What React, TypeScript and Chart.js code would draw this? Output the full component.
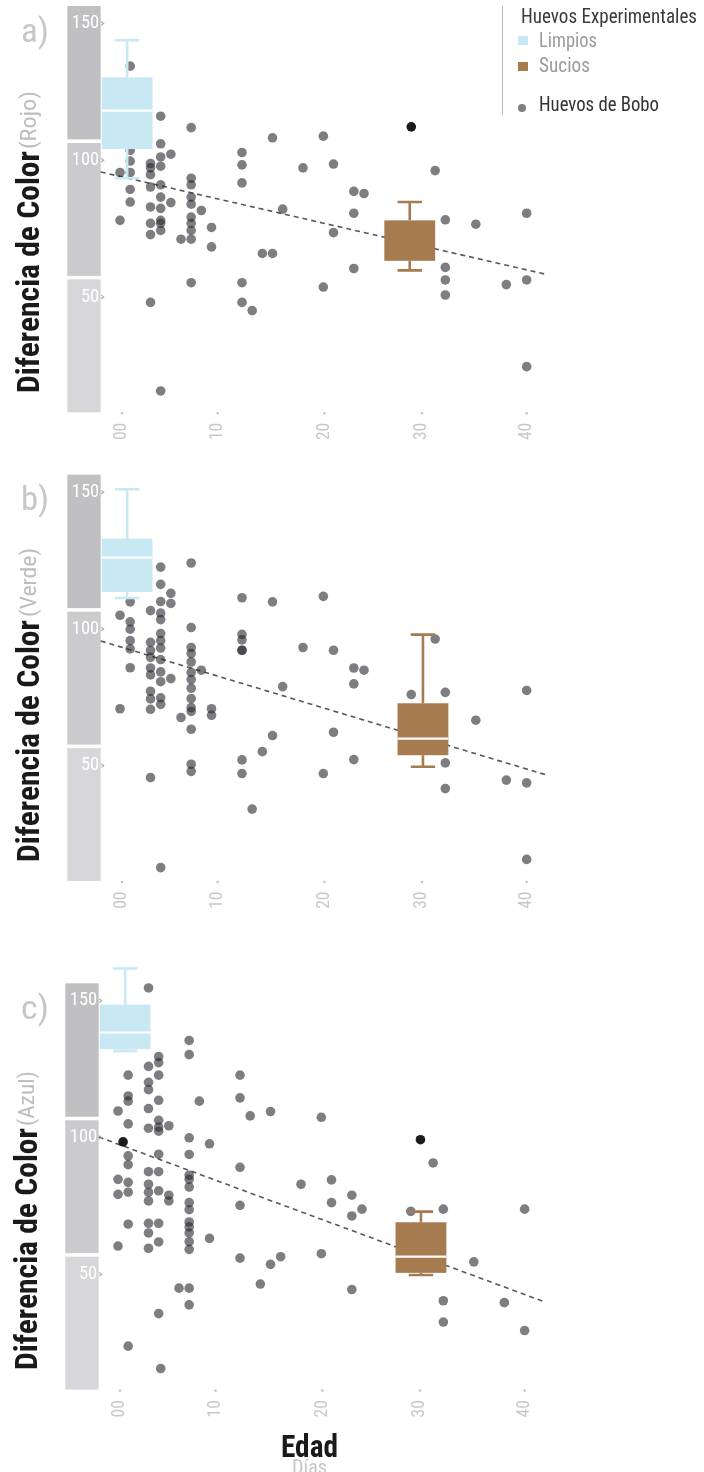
import React, { useEffect, useRef } from 'react';
import { Chart, registerables } from 'chart.js';

Chart.register(...registerables);

// ---------------- data ----------------
const xTickValues = [0.2, 9.6, 20.1, 29.7, 40];
const xTickLabels = ['00', '10', '20', '30', '40'];
const yTickValues = [50, 100, 150];
const yTickLabels = ['50', '100', '150'];
const xRange = [-1.9, 42.1];
const yRange = [7.8, 156.4];
const axisBandRanges = [[156.4, 107.6], [106.3, 57.7], [56.4, 7.8]];

const panelLetters = ['a)', 'b)', 'c)'];
const channelNames = ['(Rojo)', '(Verde)', '(Azul)'];
const yTitle = 'Diferencia de Color';
const xTitle = 'Edad';
const xSubtitle = 'Días';
const legendTitle = 'Huevos Experimentales';
const legendLimpios = 'Limpios';
const legendSucios = 'Sucios';
const legendBobo = 'Huevos de Bobo';

// Huevos de Bobo [día, diferencia]
const rojoBobo: number[][] = [
  [0, 95.5], [0, 78.0],
  [1, 134.4], [1, 103.6], [1, 99.7], [1, 95.5], [1, 89.3], [1, 84.7],
  [3, 98.8], [3, 97.2], [3, 94.7], [3, 90.2], [3, 82.9], [3, 76.9], [3, 72.8], [3, 48.0],
  [4, 116.1], [4, 106.0], [4, 101.2], [4, 97.8], [4, 91.0], [4, 86.5], [4, 82.4], [4, 78.0], [4, 76.9], [4, 74.3], [4, 15.6],
  [5, 102.2], [5, 84.5],
  [6, 71.1],
  [7, 111.9], [7, 93.4], [7, 91.0], [7, 86.5], [7, 83.9], [7, 79.2], [7, 76.9], [7, 74.3], [7, 71.1], [7, 55.2],
  [8, 81.6],
  [9, 75.4], [9, 68.3],
  [12, 102.8], [12, 98.3], [12, 91.7], [12, 55.2], [12, 48.0],
  [13, 45.0], [14, 65.9], [15, 108.2], [15, 65.9], [16, 82.1], [18, 97.2],
  [20, 108.8], [20, 53.6], [21, 98.6], [21, 73.5],
  [23, 88.6], [23, 80.6], [23, 60.4], [24, 87.8],
  [31, 96.2], [32, 78.2], [32, 60.8], [32, 56.2], [32, 50.7],
  [35, 76.6], [38, 54.5], [40, 80.6], [40, 56.2], [40, 24.5],
];
const rojoDark: number[][] = [[28.65, 112.2]];
const rojoTrend = [95.7, 58.1];
const rojoLimpios = [93.4, 104.1, 118.1, 130.3, 143.9];
const rojoSucios: (number | null)[] = [59.7, 63.2, null, 78.0, 84.7];

const verdeBobo: number[][] = [
  [0, 105.0], [0, 70.8],
  [1, 109.9], [1, 102.6], [1, 99.9], [1, 95.7], [1, 92.7], [1, 85.8],
  [3, 106.7], [3, 95.1], [3, 92.1], [3, 89.6], [3, 85.7], [3, 83.2], [3, 77.2], [3, 74.4], [3, 70.6], [3, 45.6],
  [4, 122.6], [4, 116.3], [4, 110.0], [4, 105.8], [4, 103.4], [4, 98.3], [4, 95.7], [4, 93.0], [4, 88.8], [4, 84.3], [4, 80.7], [4, 74.8], [4, 72.4], [4, 12.7],
  [5, 113.0], [5, 109.3], [5, 81.8],
  [6, 67.6],
  [7, 124.1], [7, 100.5], [7, 93.2], [7, 91.0], [7, 87.9], [7, 84.1], [7, 81.5], [7, 78.3], [7, 74.5], [7, 71.2], [7, 69.8], [7, 63.3], [7, 50.5], [7, 47.9],
  [8, 84.9],
  [9, 70.8], [9, 68.4],
  [12, 111.4], [12, 98.0], [12, 96.0], [12, 92.2], [12, 92.2], [12, 52.1], [12, 47.1],
  [13, 34.1], [14, 55.1], [15, 109.9], [15, 61.0], [16, 78.9], [18, 93.2],
  [20, 111.9], [20, 47.1], [21, 92.2], [21, 62.2],
  [23, 85.7], [23, 79.9], [23, 52.2], [24, 84.9],
  [28.65, 76.0],
  [31, 96.3], [32, 76.8], [32, 51.0], [32, 41.6],
  [35, 66.6], [38, 44.7], [40, 77.5], [40, 43.7], [40, 15.7],
];
const verdeDark: number[][] = [];
const verdeTrend = [95.6, 46.4];
const verdeLimpios = [111.3, 113.5, 126.1, 133.0, 151.1];
const verdeSucios: (number | null)[] = [49.6, 53.8, 59.9, 72.8, 97.9];

const azulBobo: number[][] = [
  [0, 109.7], [0, 84.7], [0, 79.2], [0, 60.3],
  [1, 163.3], [1, 122.8], [1, 115.2], [1, 113.3], [1, 105.0], [1, 93.3], [1, 90.1], [1, 83.6], [1, 80.0], [1, 68.3], [1, 23.7],
  [3, 154.7], [3, 126.0], [3, 120.2], [3, 117.5], [3, 110.6], [3, 103.4], [3, 87.5], [3, 82.9], [3, 80.0], [3, 76.8], [3, 68.6], [3, 65.1], [3, 59.5],
  [4, 129.6], [4, 127.4], [4, 122.8], [4, 113.6], [4, 106.3], [4, 103.8], [4, 102.3], [4, 93.9], [4, 87.5], [4, 80.5], [4, 68.6], [4, 61.8], [4, 35.6], [4.2, 15.5],
  [5, 104.3], [5, 78.9], [5, 76.8],
  [6, 44.9],
  [7, 135.5], [7, 130.3], [7, 99.9], [7, 93.8], [7, 86.2], [7, 84.7], [7, 81.9], [7, 76.2], [7, 73.6], [7, 69.1], [7, 67.3], [7, 65.1], [7, 61.9], [7, 59.1], [7, 44.9], [7, 38.8],
  [8, 113.3],
  [9, 97.7], [9, 63.1],
  [12, 122.8], [12, 114.5], [12, 89.1], [12, 75.2], [12, 55.9],
  [13, 107.9], [14, 46.4], [15, 109.5], [15, 53.6], [16, 56.4], [18, 82.9],
  [20, 107.4], [20, 57.5], [21, 84.5], [21, 76.2],
  [23, 78.9], [23, 71.3], [23, 44.4], [24, 73.8],
  [28.8, 73.0],
  [31, 90.7], [32, 73.8], [32, 40.3], [32, 32.5],
  [35, 54.5], [38, 39.6], [40, 73.8], [40, 29.4],
];
const azulDark: number[][] = [[0.5, 98.4], [29.75, 99.2]];
const azulTrend = [100.2, 39.7];
const azulLimpios = [131.7, 132.3, 138.4, 148.6, 161.8];
const azulSucios: (number | null)[] = [49.7, 50.5, 56.4, 69.0, 72.9];

const limpiosDay = [0.7, 0.7, 0.7];
const suciosDay = [28.5, 29.8, 29.8];

// ---------------- fonts ----------------
function fontAvailable(name: string): boolean {
  try {
    const ctx = document.createElement('canvas').getContext('2d');
    if (!ctx) return false;
    const s = 'abcdefghijklmnopqrstuvwxyz0123456789WMQ';
    for (const base of ['monospace', 'serif']) {
      ctx.font = `48px ${base}`;
      const w0 = ctx.measureText(s).width;
      ctx.font = `48px "${name}", ${base}`;
      const w1 = ctx.measureText(s).width;
      if (Math.abs(w0 - w1) > 0.5) return true;
    }
  } catch (e) {
    /* ignore */
  }
  return false;
}
const condensedName =
  ['Liberation Sans Narrow', 'Roboto Condensed', 'Open Sans Condensed', 'Roboto'].find(fontAvailable) || 'Liberation Sans';
const FONT = `"${condensedName}", "Liberation Sans", sans-serif`;

const measureCtx = document.createElement('canvas').getContext('2d') as CanvasRenderingContext2D;
function textMetrics(text: string, size: number, weight: number) {
  measureCtx.font = `${weight} ${size}px ${FONT}`;
  const m = measureCtx.measureText(text);
  const fa = (m as any).fontBoundingBoxAscent ?? size * 0.93;
  const fd = (m as any).fontBoundingBoxDescent ?? size * 0.24;
  return { width: m.width, baseline: (size - (fa + fd)) / 2 + fa };
}

// ---------------- styles ----------------
const LIMPIOS_COLOR = '#c8e8f3';
const SUCIOS_COLOR = '#a67b4f';
const BOBO_COLOR = 'rgba(40,40,46,0.6)';
const DARK_COLOR = '#1b1b1d';
const BAND_COLORS = ['#c0c0c2', '#cbcbcd', '#d7d7d9'];
const PANEL_OFFSETS = [0, 468.7, 977.3];
const PANEL_SHIFT_X = [0, 0, -2];
const CHANNEL_LEN = [58, 69, 55];
const CANVAS_W = 704;
const CANVAS_H = 1472;

type Panel = {
  bobo: number[][];
  dark: number[][];
  trend: number[];
  limpios: (number | null)[];
  sucios: (number | null)[];
  limpiosX: number;
  suciosX: number;
};

const panels: Panel[] = [
  { bobo: rojoBobo, dark: rojoDark, trend: rojoTrend, limpios: rojoLimpios, sucios: rojoSucios, limpiosX: limpiosDay[0], suciosX: suciosDay[0] },
  { bobo: verdeBobo, dark: verdeDark, trend: verdeTrend, limpios: verdeLimpios, sucios: verdeSucios, limpiosX: limpiosDay[1], suciosX: suciosDay[1] },
  { bobo: azulBobo, dark: azulDark, trend: azulTrend, limpios: azulLimpios, sucios: azulSucios, limpiosX: limpiosDay[2], suciosX: suciosDay[2] },
];

function drawBox(ctx: CanvasRenderingContext2D, xs: any, ys: any, day: number, s: (number | null)[], color: string) {
  const [mn, q1, md, q3, mx] = s;
  const cx = xs.getPixelForValue(day);
  const x0 = xs.getPixelForValue(day - 2.5);
  const x1 = xs.getPixelForValue(day + 2.5);
  const c0 = xs.getPixelForValue(day - 1.2);
  const c1 = xs.getPixelForValue(day + 1.2);
  const yMn = ys.getPixelForValue(mn as number);
  const yQ1 = ys.getPixelForValue(q1 as number);
  const yQ3 = ys.getPixelForValue(q3 as number);
  const yMx = ys.getPixelForValue(mx as number);
  ctx.save();
  ctx.strokeStyle = color;
  ctx.lineWidth = 2.6;
  ctx.beginPath();
  ctx.moveTo(cx, yMx);
  ctx.lineTo(cx, yQ3);
  ctx.moveTo(cx, yQ1);
  ctx.lineTo(cx, yMn);
  ctx.stroke();
  ctx.beginPath();
  ctx.moveTo(c0, yMx);
  ctx.lineTo(c1, yMx);
  ctx.moveTo(c0, yMn);
  ctx.lineTo(c1, yMn);
  ctx.stroke();
  ctx.fillStyle = color;
  ctx.fillRect(x0, yQ3, x1 - x0, yQ1 - yQ3);
  if (md != null) {
    const yMd = ys.getPixelForValue(md);
    ctx.strokeStyle = '#ffffff';
    ctx.lineWidth = 2.2;
    ctx.beginPath();
    ctx.moveTo(x0, yMd);
    ctx.lineTo(x1, yMd);
    ctx.stroke();
  }
  ctx.restore();
}

function makeDecor(p: Panel) {
  return {
    id: 'eggDecor',
    beforeDraw(chart: any) {
      const ctx = chart.ctx as CanvasRenderingContext2D;
      const ys = chart.scales.y;
      ctx.save();
      axisBandRanges.forEach((b, i) => {
        const t = ys.getPixelForValue(b[0]);
        const bt = ys.getPixelForValue(b[1]);
        ctx.fillStyle = BAND_COLORS[i];
        ctx.fillRect(ys.left, t, ys.right - ys.left, bt - t);
      });
      ctx.restore();
    },
    afterDatasetsDraw(chart: any) {
      const ctx = chart.ctx as CanvasRenderingContext2D;
      drawBox(ctx, chart.scales.x, chart.scales.y, p.limpiosX, p.limpios, LIMPIOS_COLOR);
      drawBox(ctx, chart.scales.x, chart.scales.y, p.suciosX, p.sucios, SUCIOS_COLOR);
    },
    afterDraw(chart: any) {
      const ctx = chart.ctx as CanvasRenderingContext2D;
      const area = chart.chartArea;
      const xs = chart.scales.x;
      const ys = chart.scales.y;
      ctx.save();
      ctx.fillStyle = '#c6c6c8';
      xs.ticks.forEach((t: any) => {
        const x = xs.getPixelForValue(t.value);
        ctx.beginPath();
        ctx.arc(x, area.bottom + 1, 1.3, 0, Math.PI * 2);
        ctx.fill();
      });
      ctx.strokeStyle = '#a9a9ab';
      ctx.lineWidth = 1.1;
      ys.ticks.forEach((t: any) => {
        const y = ys.getPixelForValue(t.value);
        ctx.beginPath();
        ctx.moveTo(area.left + 0.5, y - 1.8);
        ctx.lineTo(area.left + 3, y);
        ctx.lineTo(area.left + 0.5, y + 1.8);
        ctx.stroke();
      });
      ctx.restore();
    },
  };
}

function buildConfig(p: Panel, offset: number): any {
  const top = 6 + offset;
  const bottom = CANVAS_H - (412.3 + offset) - 40;
  return {
    type: 'scatter',
    data: {
      datasets: [
        {
          type: 'scatter',
          data: p.dark.map((d) => ({ x: d[0], y: d[1] })),
          pointRadius: 4.8,
          pointBackgroundColor: DARK_COLOR,
          backgroundColor: DARK_COLOR,
          borderWidth: 0,
          pointBorderWidth: 0,
          clip: false,
        },
        {
          type: 'scatter',
          data: p.bobo.map((d) => ({ x: d[0], y: d[1] })),
          pointRadius: 4.8,
          pointBackgroundColor: BOBO_COLOR,
          backgroundColor: BOBO_COLOR,
          borderWidth: 0,
          pointBorderWidth: 0,
          clip: false,
        },
        {
          type: 'line',
          data: [
            { x: xRange[0], y: p.trend[0] },
            { x: xRange[1], y: p.trend[1] },
          ],
          borderColor: '#58585c',
          borderWidth: 1.6,
          borderDash: [5, 4],
          pointRadius: 0,
          fill: false,
          clip: false,
        },
      ],
    },
    options: {
      responsive: false,
      animation: false,
      events: [],
      layout: { padding: { left: 67.3, right: CANVAS_W - 548, top, bottom } },
      plugins: { legend: { display: false }, tooltip: { enabled: false }, title: { display: false } },
      scales: {
        x: {
          type: 'linear',
          min: xRange[0],
          max: xRange[1],
          grid: { display: false, drawTicks: false },
          border: { display: false },
          afterBuildTicks: (s: any) => {
            s.ticks = xTickValues.map((v) => ({ value: v }));
          },
          afterFit: (s: any) => {
            s.height = 40;
            s.paddingLeft = 0;
            s.paddingRight = 0;
          },
          ticks: {
            autoSkip: false,
            minRotation: 90,
            maxRotation: 90,
            padding: 10.5,
            color: '#c8c8ca',
            font: { family: FONT, size: 17.5 },
            callback: (_v: any, i: number) => xTickLabels[i],
          },
        },
        y: {
          type: 'linear',
          min: yRange[0],
          max: yRange[1],
          grid: { display: false, drawTicks: false },
          border: { display: false },
          afterBuildTicks: (s: any) => {
            s.ticks = yTickValues.map((v) => ({ value: v }));
          },
          afterFit: (s: any) => {
            s.width = 33.4;
            s.paddingTop = 0;
            s.paddingBottom = 0;
          },
          ticks: {
            padding: 1.5,
            color: '#ffffff',
            font: { family: FONT, size: 18.5 },
            callback: (_v: any, i: number) => yTickLabels[i],
          },
        },
      },
    },
    plugins: [makeDecor(p)],
  };
}

const abs = (s: React.CSSProperties): React.CSSProperties => ({ position: 'absolute', whiteSpace: 'nowrap', margin: 0, ...s });

type FitProps = {
  text: string;
  size: number;
  weight?: number;
  color: string;
  left: number;
  baseline: number;
  width: number;
};

// horizontal text, squeezed to the reference width
function FitText({ text, size, weight = 400, color, left, baseline, width }: FitProps) {
  const m = textMetrics(text, size, weight);
  const k = width / m.width;
  return (
    <div
      style={abs({
        left,
        top: baseline - m.baseline,
        fontSize: size,
        lineHeight: size + 'px',
        fontWeight: weight,
        color,
        transform: `scaleX(${k})`,
        transformOrigin: 'left top',
      })}
    >
      {text}
    </div>
  );
}

// vertical text reading upward; `left` = x of baseline, `baseline` = y where text starts
function VText({ text, size, weight = 400, color, left, baseline, width }: FitProps) {
  const m = textMetrics(text, size, weight);
  const k = width / m.width;
  return (
    <div
      style={abs({
        left: left - m.baseline,
        top: baseline,
        fontSize: size,
        lineHeight: size + 'px',
        fontWeight: weight,
        color,
        transform: `rotate(-90deg) scaleX(${k})`,
        transformOrigin: 'left top',
      })}
    >
      {text}
    </div>
  );
}

export default function App() {
  const r0 = useRef<HTMLCanvasElement>(null);
  const r1 = useRef<HTMLCanvasElement>(null);
  const r2 = useRef<HTMLCanvasElement>(null);
  const refs = [r0, r1, r2];

  useEffect(() => {
    const charts = panels.map((p, i) => {
      const c = refs[i].current as HTMLCanvasElement;
      return new Chart(c, buildConfig(p, PANEL_OFFSETS[i]));
    });
    return () => charts.forEach((ch) => ch.destroy());
  }, []);

  return (
    <div style={abs({ left: 0, top: 0, width: CANVAS_W, height: CANVAS_H, overflow: 'hidden', background: '#ffffff', fontFamily: FONT })}>
      {panels.map((_p, i) => (
        <canvas
          key={'c' + i}
          ref={refs[i]}
          width={CANVAS_W}
          height={CANVAS_H}
          style={abs({ left: PANEL_SHIFT_X[i], top: 0, width: CANVAS_W, height: CANVAS_H })}
        />
      ))}
      {panels.map((_p, i) => (
        <FitText key={'l' + i} text={panelLetters[i]} size={33} color="#c6c6c6" left={20.5} baseline={41.7 + PANEL_OFFSETS[i]} width={28} />
      ))}
      {panels.map((_p, i) => (
        <VText key={'t' + i} text={yTitle} size={32} weight={700} color="#1a1a1a" left={39.3 + PANEL_SHIFT_X[i]} baseline={393 + PANEL_OFFSETS[i]} width={242} />
      ))}
      {panels.map((_p, i) => (
        <VText key={'n' + i} text={channelNames[i]} size={22.5} color="#bdbdbd" left={36 + PANEL_SHIFT_X[i]} baseline={148.5 + PANEL_OFFSETS[i]} width={CHANNEL_LEN[i]} />
      ))}
      {/* legend */}
      <div style={abs({ left: 501.5, top: 6, width: 1.5, height: 109, background: '#b8b8b8' })} />
      <FitText text={legendTitle} size={20.5} color="#3a3a3a" left={520.5} baseline={23.5} width={176} />
      <div style={abs({ left: 518, top: 36, width: 10, height: 9, background: LIMPIOS_COLOR })} />
      <FitText text={legendLimpios} size={20.5} color="#9a9a9a" left={538.5} baseline={47} width={58} />
      <div style={abs({ left: 518, top: 61.5, width: 10, height: 9.5, background: SUCIOS_COLOR })} />
      <FitText text={legendSucios} size={20.5} color="#9a9a9a" left={538.5} baseline={72} width={51} />
      <div style={abs({ left: 518.3, top: 104, width: 8, height: 8, borderRadius: 4, background: BOBO_COLOR })} />
      <FitText text={legendBobo} size={20.5} color="#333333" left={538.5} baseline={111.5} width={120} />
      {/* x title */}
      <FitText text={xTitle} size={32} weight={700} color="#1a1a1a" left={281} baseline={1457.2} width={57} />
      <FitText text={xSubtitle} size={21} color="#c6c6c6" left={292} baseline={1474.6} width={35} />
    </div>
  );
}
